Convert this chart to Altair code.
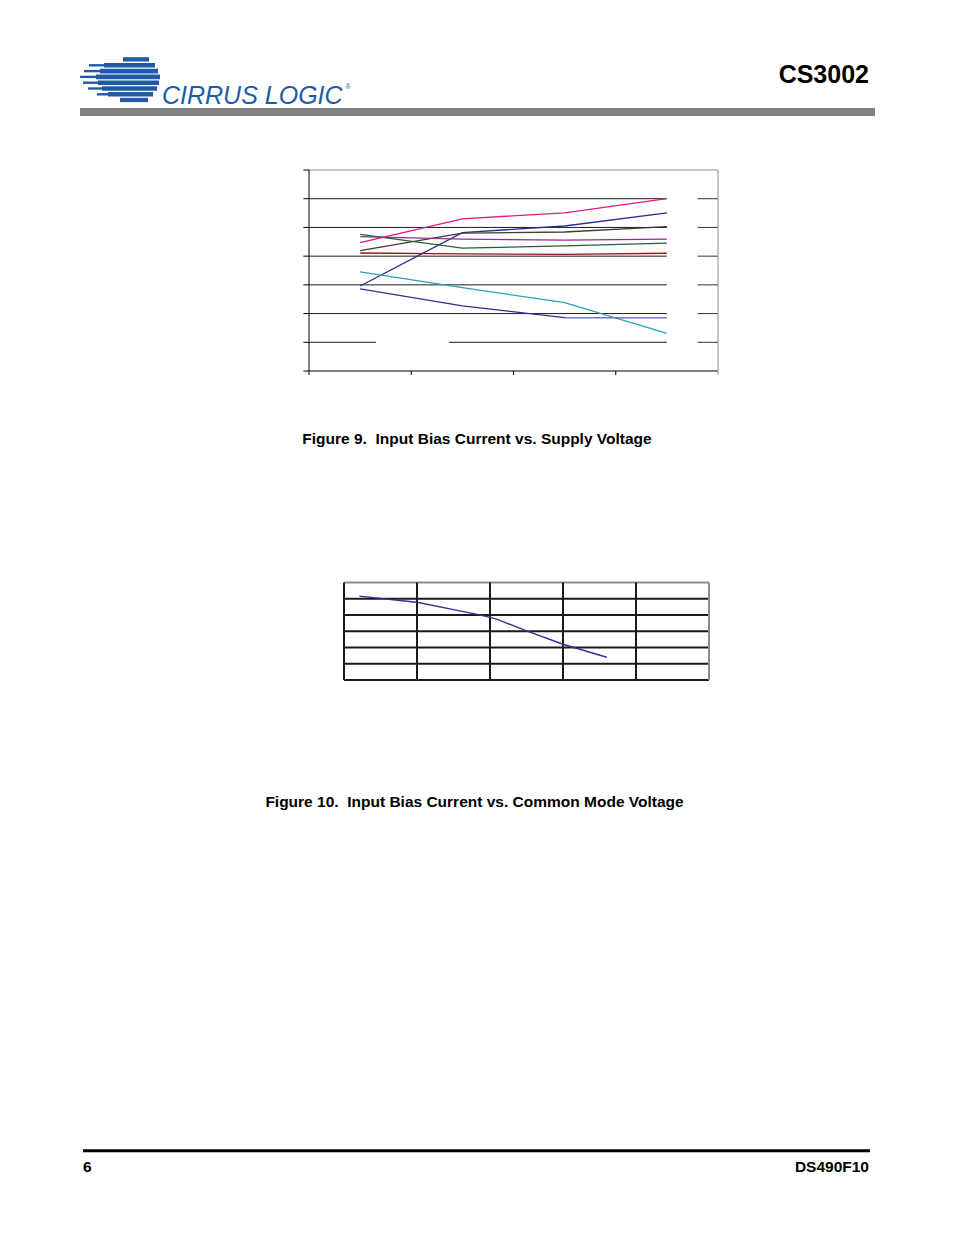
import altair as alt
import pandas as pd

# ---------------- data ----------------
# Figure 9: Input Bias Current vs. Supply Voltage (4 supply categories, axis labels blank in source)
supply_cat = [1, 2, 3, 4]
fig9_names = ["Unit 1", "Unit 2", "Unit 3", "Unit 4", "Unit 5", "Unit 6", "Unit 7", "Unit 8", "Unit 9"]
unit1 = [4.47, 5.30, 5.51, 6.00]
unit2 = [2.96, 4.82, 5.05, 5.51]
unit3 = [4.19, 4.80, 4.84, 5.03]
unit4 = [4.68, 4.59, 4.56, 4.59]
unit5 = [4.76, 4.28, 4.36, 4.45]
unit6 = [4.11, 4.08, 4.06, 4.10]
unit7 = [3.45, 2.90, 2.38, 1.31]
unit8 = [2.86, 2.27, 1.86, 1.86]
unit9 = [None, None, 1.86, 1.86]
fig9_colors = ["#E6197F", "#2B2B96", "#3C3C3C", "#932C96", "#2A5E36",
               "#8C1C1C", "#2AA4A8", "#2E2E9A", "#7878C8"]
fig9_levels = [0, 1, 2, 3, 4, 5, 6, 7]

# Figure 10: Input Bias Current vs. Common Mode Voltage
cm_volt = [0.21, 1.02, 1.50, 1.86, 2.00, 2.10, 2.50, 3.00, 3.60]
cm_bias = [5.16, 4.77, 4.33, 4.01, 3.85, 3.73, 3.02, 2.20, 1.40]
fig10_xgrid = [0, 1, 2, 3, 4, 5]
fig10_ygrid = [0, 1, 2, 3, 4, 5, 6]

# ---------------- helpers ----------------
M = 8  # page margin
FONT = "Liberation Sans"
one = pd.DataFrame({"k": [0]})

def px(v):
    return v - M

x9 = alt.Scale(domain=[0.5, 4.5], range=[px(309), px(718)], nice=False, zero=False)
y9 = alt.Scale(domain=[0, 7], range=[px(371), px(170)], nice=False, zero=False)
x10 = alt.Scale(domain=[0, 5], range=[px(344), px(709)], nice=False, zero=False)
y10 = alt.Scale(domain=[0, 6], range=[px(680), px(582.5)], nice=False, zero=False)

layers = []

# ---- page decorations ----
def rect(x1, x2, y1, y2, color):
    return alt.Chart(one).mark_rect(color=color).encode(
        x=alt.value(px(x1)), x2=alt.value(px(x2)),
        y=alt.value(px(y1)), y2=alt.value(px(y2)))

def text(s, x, y, size, align="left", weight="bold", color="#000000", style="normal", font=FONT):
    return alt.Chart(one).mark_text(text=s, align=align, baseline="alphabetic",
                                    fontSize=size, fontWeight=weight, fontStyle=style,
                                    font=font, color=color).encode(
        x=alt.value(px(x)), y=alt.value(px(y)))

LOGO = "#1F5BA8"
# logo stripes: (top, height, tail_left, thick_left, right)
stripes = [
    (57.2, 4.3, None, 123, 149),
    (63.0, 4.6, 89, 104, 155),
    (68.8, 4.6, 84, 100, 158),
    (74.6, 4.6, 80, 96, 160),
    (80.4, 4.6, 83, 98, 159),
    (86.2, 4.6, 88, 102, 157),
    (92.0, 4.6, 97, 108, 153),
    (97.8, 4.3, None, 120, 148),
]
for top, h, tail, thick, right in stripes:
    layers.append(rect(thick, right, top, top + h, LOGO))
    if tail is not None:
        mid = top + h / 2
        layers.append(rect(tail, thick + 1, mid - 1.2, mid + 1.2, LOGO))

NB = "\u00a0"
layers.append(text("CIRRUS LOGIC", 162, 103.5, 25, weight="normal", color=LOGO, style="italic"))
layers.append(text("®", 345.5, 89, 7, weight="normal", color=LOGO))
layers.append(text("CS3002", 869, 83, 25, align="right"))
layers.append(rect(80, 875, 108, 116, "#808080"))

layers.append(rect(83, 870, 1149.3, 1152.3, "#000000"))
layers.append(text("6", 83, 1171.5, 15.5))
layers.append(text("DS490F10", 869, 1171.5, 15.5, align="right"))

layers.append(text("Figure 9." + NB + " Input Bias Current vs. Supply Voltage", 477, 443.5, 15.5, align="center"))
layers.append(text("Figure 10." + NB + " Input Bias Current vs. Common Mode Voltage", 474.5, 806.5, 15.5, align="center"))

# ---- Figure 9 frame / grid ----
h_rows = []
for lv in fig9_levels:
    h_rows.append({"y": lv, "x1": 0.445, "x2": 0.5, "c": "#000000"})  # left ticks
    if lv == 0:
        h_rows.append({"y": lv, "x1": 0.5, "x2": 4.5, "c": "#000000"})
    elif lv == 7:
        h_rows.append({"y": lv, "x1": 0.5, "x2": 4.5, "c": "#8C8C8C"})
    elif lv == 1:
        h_rows.append({"y": lv, "x1": 0.5, "x2": 1.155, "c": "#1A1A1A"})
        h_rows.append({"y": lv, "x1": 1.87, "x2": 4.0, "c": "#1A1A1A"})
        h_rows.append({"y": lv, "x1": 4.3, "x2": 4.5, "c": "#333333"})
    else:
        h_rows.append({"y": lv, "x1": 0.5, "x2": 4.0, "c": "#1A1A1A"})
        h_rows.append({"y": lv, "x1": 4.3, "x2": 4.5, "c": "#333333"})
h9 = pd.DataFrame(h_rows)

v_rows = [{"x": 4.5, "y1": -0.14, "y2": 7, "c": "#8C8C8C"},
          {"x": 0.5, "y1": -0.14, "y2": 7, "c": "#000000"}]
for xb in [1.5, 2.5, 3.5]:
    v_rows.append({"x": xb, "y1": -0.14, "y2": 0, "c": "#000000"})
v9 = pd.DataFrame(v_rows)

layers.append(alt.Chart(h9).mark_rule(strokeWidth=1).encode(
    x=alt.X("x1:Q", scale=x9, axis=None), x2="x2:Q",
    y=alt.Y("y:Q", scale=y9, axis=None),
    color=alt.Color("c:N", scale=None)))
layers.append(alt.Chart(v9).mark_rule(strokeWidth=1).encode(
    x=alt.X("x:Q", scale=x9, axis=None),
    y=alt.Y("y1:Q", scale=y9, axis=None), y2="y2:Q",
    color=alt.Color("c:N", scale=None)))

# ---- Figure 9 lines ----
series = [unit1, unit2, unit3, unit4, unit5, unit6, unit7, unit8, unit9]
rows = []
for name, vals in zip(fig9_names, series):
    for xc, v in zip(supply_cat, vals):
        if v is not None:
            rows.append({"unit": name, "supply": xc, "bias": v})
d9 = pd.DataFrame(rows)
layers.append(alt.Chart(d9).mark_line(strokeWidth=1.3).encode(
    x=alt.X("supply:Q", scale=x9, axis=None),
    y=alt.Y("bias:Q", scale=y9, axis=None),
    color=alt.Color("unit:N", scale=alt.Scale(domain=fig9_names, range=fig9_colors), legend=None)))

# ---- Figure 10 grid ----
gh = pd.DataFrame([{"y": v, "c": ("#8C8C8C" if v == 6 else "#1A1A1A")} for v in fig10_ygrid])
gv = pd.DataFrame([{"x": v, "c": ("#8C8C8C" if v == 5 else "#1A1A1A")} for v in fig10_xgrid])
layers.append(alt.Chart(gh).mark_rule(strokeWidth=2).encode(
    x=alt.datum(0, scale=x10, axis=None), x2=alt.datum(5),
    y=alt.Y("y:Q", scale=y10, axis=None),
    color=alt.Color("c:N", scale=None)))
layers.append(alt.Chart(gv).mark_rule(strokeWidth=2).encode(
    x=alt.X("x:Q", scale=x10, axis=None),
    y=alt.datum(0, scale=y10, axis=None), y2=alt.datum(6),
    color=alt.Color("c:N", scale=None)))

d10 = pd.DataFrame({"cm": cm_volt, "ib": cm_bias})
layers.append(alt.Chart(d10).mark_line(strokeWidth=1.4, color="#2E3192").encode(
    x=alt.X("cm:Q", scale=x10, axis=None),
    y=alt.Y("ib:Q", scale=y10, axis=None)))

chart = alt.layer(*layers).resolve_scale(
    x="independent", y="independent", color="independent"
).properties(
    width=938, height=1219, padding=0,
    autosize=alt.AutoSizeParams(type="none"),
    background="#FFFFFF",
).configure_view(strokeWidth=0)

chart.save("out.html", embed_options={"renderer": "svg", "actions": False})
